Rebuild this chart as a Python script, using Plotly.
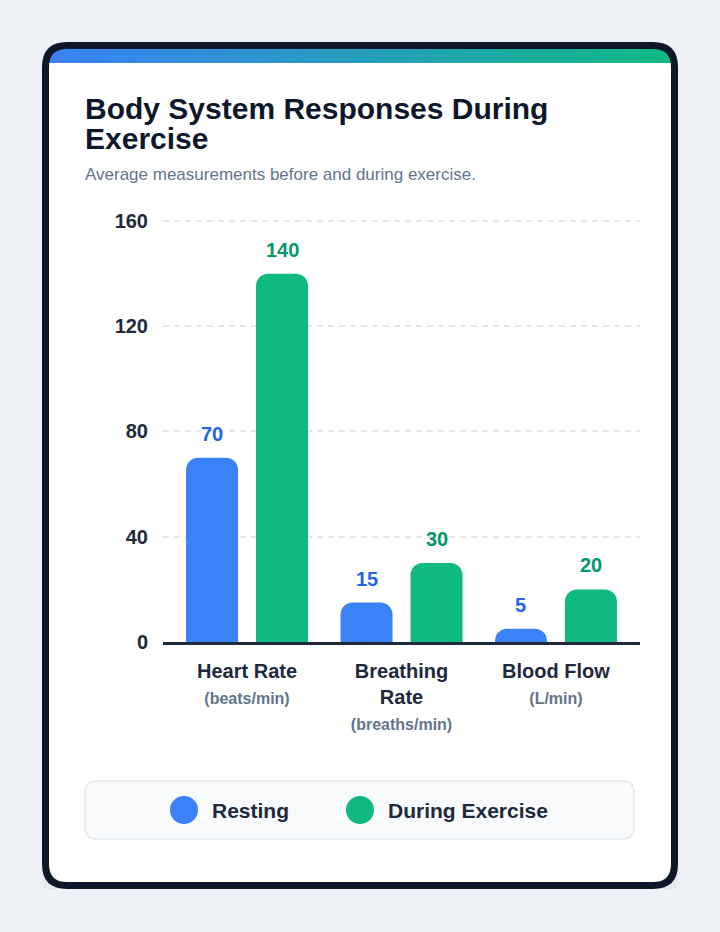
import numpy as np
import plotly.graph_objects as go

# ---------------- data ----------------
categories = ["Heart Rate", "Breathing Rate", "Blood Flow"]
category_labels = ["Heart Rate", "Breathing<br>Rate", "Blood Flow"]
units = ["(beats/min)", "(breaths/min)", "(L/min)"]
series_names = ["Resting", "During Exercise"]
resting = [70, 15, 5]
exercise = [140, 30, 20]
series_values = [resting, exercise]
bar_colors = ["#3b82f6", "#10b981"]
label_colors = ["#2563eb", "#059669"]
y_ticks = [0, 40, 80, 120, 160]

title_lines = ["Body System Responses During", "Exercise"]
subtitle = "Average measurements before and during exercise."

FONT = "Liberation Sans, Arial, sans-serif"
W, H = 720, 932


def px(x):
    return x / W


def py(y):
    return 1 - y / H


def rrect(x0, y0, x1, y1, r):
    """rounded rectangle path in paper coords from pixel coords"""
    p = [
        f"M {px(x0 + r)} {py(y0)}",
        f"L {px(x1 - r)} {py(y0)}",
        f"Q {px(x1)} {py(y0)} {px(x1)} {py(y0 + r)}",
        f"L {px(x1)} {py(y1 - r)}",
        f"Q {px(x1)} {py(y1)} {px(x1 - r)} {py(y1)}",
        f"L {px(x0 + r)} {py(y1)}",
        f"Q {px(x0)} {py(y1)} {px(x0)} {py(y1 - r)}",
        f"L {px(x0)} {py(y0 + r)}",
        f"Q {px(x0)} {py(y0)} {px(x0 + r)} {py(y0)}",
        "Z",
    ]
    return " ".join(p)


fig = go.Figure()

# bars
for name, vals, col in zip(series_names, series_values, bar_colors):
    fig.add_trace(go.Bar(
        x=categories, y=vals, name=name, marker=dict(color=col, line=dict(width=0)),
        showlegend=False, hoverinfo="skip", cliponaxis=False,
    ))

# gradient strip at top of the card (decoration, pixel overlay axes)
cx_l, cx_r, cy, r = 67, 653, 67, 21.5
t1 = np.linspace(np.pi, 1.5 * np.pi, 30)
t2 = np.linspace(1.5 * np.pi, 2 * np.pi, 30)
sx = np.concatenate([cx_l + r * np.cos(t1), cx_r + r * np.cos(t2), [45.5]])
sy = np.concatenate([cy + r * np.sin(t1), cy + r * np.sin(t2), [63]])
sy = np.minimum(sy, 63)
fig.add_trace(go.Scatter(
    x=sx, y=sy, xaxis="x2", yaxis="y2", mode="lines", fill="toself",
    line=dict(width=0, color="rgba(0,0,0,0)"),
    fillgradient=dict(type="horizontal", colorscale=[[0, "#3b82f6"], [1, "#10b981"]]),
    showlegend=False, hoverinfo="skip",
))

shapes = []
# faint backdrop under the card's bottom corners
shapes.append(dict(type="rect", xref="paper", yref="paper", layer="below",
                   x0=px(43), x1=px(677), y0=py(889), y1=py(860),
                   fillcolor="#e6e9ef", line=dict(width=0)))
# card
shapes.append(dict(type="path", xref="paper", yref="paper", layer="below",
                   path=rrect(42, 42, 678, 889, 25), fillcolor="#ffffff",
                   line=dict(width=0)))
shapes.append(dict(type="path", xref="paper", yref="paper", layer="above",
                   path=rrect(45.5, 45.5, 674.5, 885.5, 21.5), fillcolor="rgba(0,0,0,0)",
                   line=dict(width=7, color="#0f172a")))
# legend box
shapes.append(dict(type="path", xref="paper", yref="paper", layer="below",
                   path=rrect(85, 781, 634, 839, 12), fillcolor="#f8fafc",
                   line=dict(width=1.5, color="#e2e8f0")))

annotations = []
# title & subtitle
annotations.append(dict(xref="paper", yref="paper", x=px(83), y=py(108), xanchor="left",
                        yanchor="middle", showarrow=False, text=f"<b>{title_lines[0]}</b>",
                        font=dict(family=FONT, size=30, color="#0f172a")))
annotations.append(dict(xref="paper", yref="paper", x=px(83), y=py(139), xanchor="left",
                        yanchor="middle", showarrow=False, text=f"<b>{title_lines[1]}</b>",
                        font=dict(family=FONT, size=30, color="#0f172a")))
annotations.append(dict(xref="paper", yref="paper", x=px(83), y=py(175), xanchor="left",
                        yanchor="middle", showarrow=False, text=subtitle,
                        font=dict(family=FONT, size=17, color="#64748b")))

# value labels
offsets = [-35, 35]
for vals, col, off in zip(series_values, label_colors, offsets):
    for c, v in zip(categories, vals):
        annotations.append(dict(xref="x", yref="y", x=c, y=v, xshift=off, yshift=24,
                                yanchor="middle", showarrow=False, text=f"<b>{v}</b>",
                                font=dict(family=FONT, size=20, color=col)))

# legend
leg_x = [184, 360]
for name, col, lx in zip(series_names, bar_colors, leg_x):
    shapes.append(dict(type="circle", xref="paper", yref="paper", layer="above",
                       x0=px(lx - 14), x1=px(lx + 14), y0=py(810 + 14), y1=py(810 - 14),
                       fillcolor=col, line=dict(width=0)))
    annotations.append(dict(xref="paper", yref="paper", x=px(lx + 26), y=py(810),
                            xanchor="left", yanchor="middle", showarrow=False,
                            text=f"<b>{name}</b>",
                            font=dict(family=FONT, size=21, color="#1e293b")))

ticktext = [
    f"<b>{lab}</b><br><span style='font-size:16px;color:#64748b'><b>{u}</b></span>"
    for lab, u in zip(category_labels, units)
]

Y_TOP = 161.0  # small headroom so the 160 gridline is not clipped at the edge
px_per_unit = (642 - 221) / 160

fig.update_layout(
    width=W, height=H, margin=dict(l=0, r=0, t=0, b=0, pad=0, autoexpand=False),
    paper_bgcolor="#eef2f7", plot_bgcolor="rgba(0,0,0,0)",
    font=dict(family=FONT, color="#1e293b"),
    barmode="group", bargap=0.094, bargroupgap=0.257, barcornerradius=12,
    showlegend=False,
    xaxis=dict(domain=[px(163), px(640)], type="category", range=[-0.544, 2.544],
               tickvals=categories, ticktext=ticktext, showline=True, linecolor="#1e293b",
               linewidth=3, ticks="", showgrid=False, zeroline=False, automargin=False,
               tickfont=dict(family=FONT, size=20, color="#1e293b"),
               ticklabelstandoff=9, fixedrange=True),
    yaxis=dict(domain=[py(642), py(221 - (Y_TOP - 160) * px_per_unit)], range=[0, Y_TOP],
               tickvals=y_ticks,
               showgrid=True, gridcolor="#e2e8f0", griddash="6px,5px", gridwidth=1.5,
               zeroline=False, showline=False, ticks="", automargin=False,
               tickfont=dict(family=FONT, size=20, color="#1e293b", weight="bold"),
               ticklabelstandoff=14, fixedrange=True),
    xaxis2=dict(domain=[0, 1], range=[0, W], visible=False, anchor="y2",
                automargin=False, fixedrange=True),
    yaxis2=dict(domain=[0, 1], range=[H, 0], visible=False, anchor="x2",
                automargin=False, fixedrange=True),
    shapes=shapes, annotations=annotations,
)

fig.write_html("out.html")
